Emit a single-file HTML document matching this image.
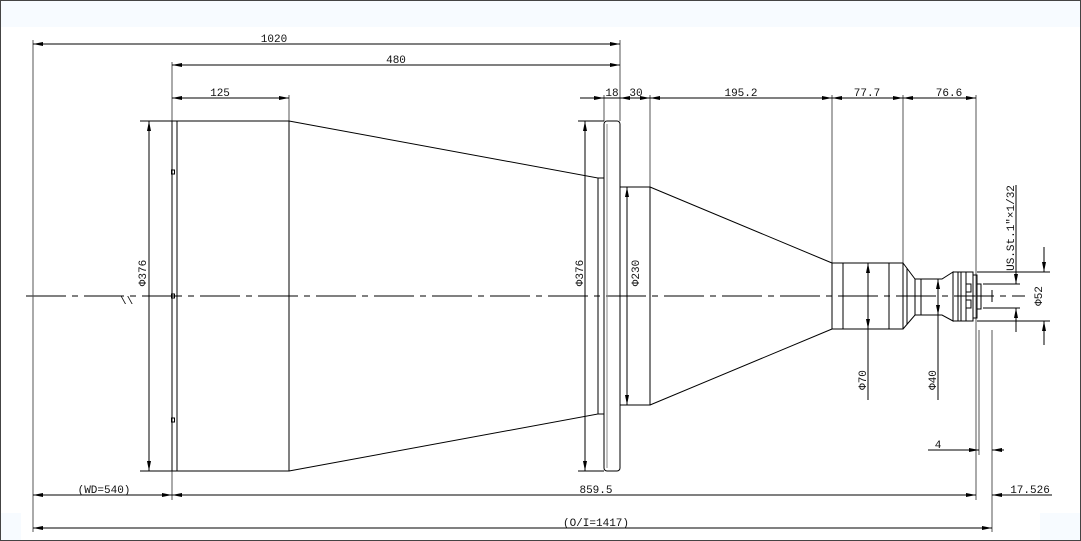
<!DOCTYPE html>
<html><head><meta charset="utf-8"><style>
html,body{margin:0;padding:0;background:#fff;}
svg{display:block;}
text{font-family:"Liberation Mono","DejaVu Sans Mono",monospace;font-size:11px;fill:#111;}
</style></head><body>
<svg width="1081" height="541" viewBox="0 0 1081 541" xmlns="http://www.w3.org/2000/svg">
<defs>
<marker id="a" viewBox="0 0 10 4" refX="10" refY="2" markerWidth="10" markerHeight="4" orient="auto-start-reverse" markerUnits="userSpaceOnUse"><path d="M0,0L10,2L0,4z" fill="#000"/></marker>
</defs>
<rect x="0" y="0" width="1081" height="541" fill="#fff"/>
<rect x="1" y="1" width="1079" height="26" fill="#f7fbff"/>
<rect x="0.5" y="0.5" width="1080" height="540" fill="none" stroke="#444" stroke-width="1"/>
<rect x="1040" y="513" width="40" height="27" fill="#f7fbff"/>
<rect x="1" y="513" width="20" height="27" fill="#f7fbff"/>

<g stroke="#000" stroke-width="1" fill="none">
<!-- centerline -->
<line x1="26" y1="296" x2="1025" y2="296" stroke-dasharray="40,6,6,6"/>
<!-- extension lines -->
<line x1="33" y1="40" x2="33" y2="532" stroke="#555"/>
<line x1="620" y1="40" x2="620" y2="121" stroke="#555"/>
<line x1="172" y1="62" x2="172" y2="500" stroke="#555"/>
<line x1="289" y1="95" x2="289" y2="121" stroke="#555"/>
<line x1="604" y1="95" x2="604" y2="121" stroke="#555"/>
<line x1="650" y1="95" x2="650" y2="187" stroke="#555"/>
<line x1="832" y1="95" x2="832" y2="263" stroke="#555"/>
<line x1="903" y1="95" x2="903" y2="263" stroke="#555"/>
<line x1="976" y1="95" x2="976" y2="500" stroke="#555"/>
<line x1="979" y1="330" x2="979" y2="455" stroke="#555"/>
<line x1="992" y1="330" x2="992" y2="532" stroke="#555"/>

<!-- top dims -->
<line x1="33" y1="44" x2="620" y2="44" marker-start="url(#a)" marker-end="url(#a)"/>
<line x1="172" y1="65" x2="620" y2="65" marker-start="url(#a)" marker-end="url(#a)"/>
<line x1="172" y1="98" x2="289" y2="98" marker-start="url(#a)" marker-end="url(#a)"/>
<line x1="580" y1="98" x2="604" y2="98" marker-end="url(#a)"/>
<line x1="604" y1="98" x2="620" y2="98"/>
<line x1="620" y1="98" x2="650" y2="98" marker-start="url(#a)" marker-end="url(#a)"/>
<line x1="650" y1="98" x2="832" y2="98" marker-start="url(#a)" marker-end="url(#a)"/>
<line x1="832" y1="98" x2="903" y2="98" marker-start="url(#a)" marker-end="url(#a)"/>
<line x1="903" y1="98" x2="976" y2="98" marker-start="url(#a)" marker-end="url(#a)"/>

<!-- bottom dims -->
<line x1="33" y1="495" x2="172" y2="495" marker-start="url(#a)" marker-end="url(#a)"/>
<line x1="172" y1="495" x2="976" y2="495" marker-start="url(#a)" marker-end="url(#a)"/>
<line x1="992" y1="495" x2="1052" y2="495" marker-start="url(#a)"/>
<line x1="960" y1="495" x2="976" y2="495"/>
<line x1="33" y1="528" x2="992" y2="528" marker-start="url(#a)" marker-end="url(#a)"/>
<line x1="928" y1="450" x2="979" y2="450" marker-end="url(#a)"/>
<line x1="992" y1="450" x2="1004" y2="450" marker-start="url(#a)"/>

<!-- front section -->
<rect x="172" y="121" width="5" height="350"/>
<path d="M177,121H289V471H177"/>
<line x1="140" y1="121" x2="172" y2="121"/>
<line x1="140" y1="471" x2="172" y2="471"/>
<rect x="171.5" y="170" width="3" height="4" stroke-width="1"/>
<rect x="171.5" y="294" width="3" height="4"/>
<rect x="171.5" y="418" width="3" height="4"/>
<line x1="149" y1="121" x2="149" y2="471" marker-start="url(#a)" marker-end="url(#a)"/>
<!-- cone 1 -->
<path d="M289,121L598,178V414L289,471"/>
<line x1="598" y1="178" x2="604" y2="178"/>
<line x1="598" y1="414" x2="604" y2="414"/>
<!-- flange -->
<rect x="604" y="121" width="16" height="350" rx="3"/>
<line x1="607" y1="124" x2="607" y2="468" stroke="#888"/>
<line x1="578" y1="121" x2="604" y2="121"/>
<line x1="578" y1="471" x2="604" y2="471"/>
<line x1="585" y1="121" x2="585" y2="471" marker-start="url(#a)" marker-end="url(#a)"/>
<!-- rear body -->
<path d="M620,187H650V405H620"/>
<line x1="627" y1="187" x2="627" y2="405" marker-start="url(#a)" marker-end="url(#a)"/>
<!-- cone 2 -->
<path d="M650,187L832,263M650,405L832,329"/>
<!-- cylinder -->
<rect x="832" y="263" width="71" height="66"/>
<line x1="843" y1="263" x2="843" y2="329"/>
<line x1="889" y1="263" x2="889" y2="329"/>
<line x1="868" y1="263" x2="868" y2="400" marker-start="url(#a)"/>
<line x1="868" y1="263" x2="868" y2="329" marker-end="url(#a)"/>
<path d="M903,263L915,279H942L953,272V321L942,315H915L903,329"/>
<line x1="907" y1="268" x2="907" y2="324"/>
<line x1="915" y1="279" x2="915" y2="315"/>
<line x1="921" y1="279" x2="921" y2="315"/>
<line x1="938" y1="279" x2="938" y2="400" marker-start="url(#a)"/>
<line x1="938" y1="279" x2="938" y2="315" marker-end="url(#a)"/>
<rect x="953" y="272" width="20" height="49"/>
<line x1="958" y1="272" x2="958" y2="321"/>
<line x1="961" y1="272" x2="961" y2="321"/>
<line x1="966" y1="272" x2="966" y2="321"/>
<rect x="973" y="275" width="4" height="43"/>
<rect x="977" y="284" width="4" height="25"/>
<rect x="966" y="284" width="5" height="8"/>
<rect x="966" y="300" width="5" height="8"/>
<!-- thread & 52 dims -->
<line x1="977" y1="272" x2="1050" y2="272"/>
<line x1="977" y1="321" x2="1050" y2="321"/>
<line x1="983" y1="284" x2="1020" y2="284"/>
<line x1="983" y1="308" x2="1020" y2="308"/>
<line x1="1016" y1="250" x2="1016" y2="284" marker-end="url(#a)"/>
<line x1="1016" y1="308" x2="1016" y2="332" marker-start="url(#a)"/>
<line x1="1044" y1="247" x2="1044" y2="272" marker-end="url(#a)"/>
<line x1="1044" y1="321" x2="1044" y2="345" marker-start="url(#a)"/>
<line x1="1016" y1="185" x2="1016" y2="250"/>
<line x1="992" y1="290" x2="992" y2="302"/>
</g>
<text x="120" y="304" font-size="12" fill="#000">\\</text>

<g text-anchor="middle">
<text x="274" y="42">1020</text>
<text x="396" y="63">480</text>
<text x="220" y="96">125</text>
<text x="612" y="96">18</text>
<text x="636" y="96">30</text>
<text x="741" y="96">195.2</text>
<text x="867" y="96">77.7</text>
<text x="949" y="96">76.6</text>
<text x="104" y="493">(WD=540)</text>
<text x="596" y="493">859.5</text>
<text x="1030" y="493">17.526</text>
<text x="596" y="526">(O/I=1417)</text>
<text x="938" y="448">4</text>
</g>
<g text-anchor="middle">
<text transform="translate(146,273) rotate(-90)">Φ376</text>
<text transform="translate(583,273) rotate(-90)">Φ376</text>
<text transform="translate(639,273) rotate(-90)">Φ230</text>
<text transform="translate(866,380) rotate(-90)">Φ70</text>
<text transform="translate(936,380) rotate(-90)">Φ40</text>
<text transform="translate(1042,296) rotate(-90)">Φ52</text>
<text transform="translate(1014,228) rotate(-90)">US.St.1"×1/32</text>
</g>
</svg>
</body></html>
